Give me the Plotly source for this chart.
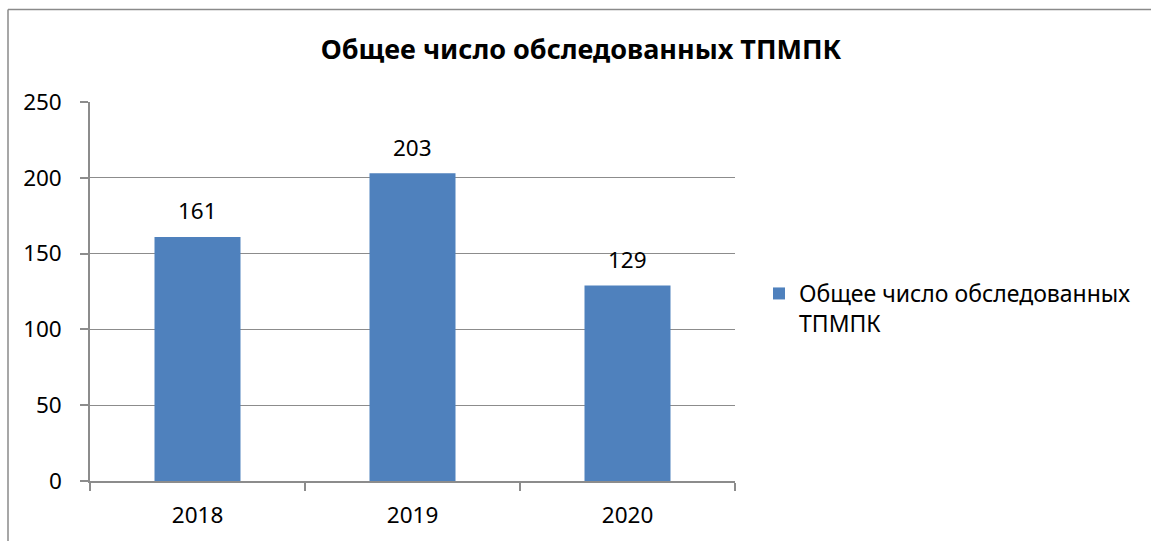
import plotly.graph_objects as go

years = ["2018", "2019", "2020"]
values = [161, 203, 129]
series_name = "Общее число обследованных<br>ТПМПК"
title_text = "Общее число обследованных ТПМПК"
y_ticks = [0, 50, 100, 150, 200, 250]

W, H = 1151, 541
L, R, T, B = 90, W - 735, 102, H - 481
FONT = "Noto Sans"
GRAY = "#8c8c8c"
FS = 22.5

fig = go.Figure()
fig.add_trace(go.Bar(x=years, y=values, name=series_name,
                     marker=dict(color="#4F81BD", line=dict(width=0))))

# category axes place annotations by category index
for i, v in enumerate(values):
    fig.add_annotation(x=i, y=v, text=str(v), showarrow=False, yshift=26,
                       font=dict(family=FONT, size=FS, color="#000"))

pw = W - L - R
ph = H - T - B
# chart frame (left and top edges visible)
fig.add_shape(type="line", xref="paper", yref="paper",
              x0=(8 - L) / pw, x1=(W + 5 - L) / pw,
              y0=(H - B - 9.5) / ph, y1=(H - B - 9.5) / ph,
              line=dict(color="#8a8a8a", width=1.5))
fig.add_shape(type="line", xref="paper", yref="paper",
              x0=(8 - L) / pw, x1=(8 - L) / pw,
              y0=(H - B - 9.5) / ph, y1=-(B + 5) / ph,
              line=dict(color="#8a8a8a", width=1.5))

fig.update_layout(
    width=W, height=H,
    margin=dict(l=L, r=R, t=T, b=B, autoexpand=False),
    paper_bgcolor="white", plot_bgcolor="white",
    bargap=0.6,
    showlegend=True,
    title=dict(text="<b>" + title_text + "</b>", x=581 / W, xanchor="center",
               y=1 - 50 / H, yanchor="middle",
               font=dict(family=FONT, size=27, color="#000")),
    legend=dict(x=(759 - L) / pw, y=(481 - 272) / ph, xanchor="left", yanchor="top",
                font=dict(family=FONT, size=23, color="#000"),
                bgcolor="rgba(0,0,0,0)", itemwidth=30, valign="top"),
    font=dict(family=FONT, size=FS, color="#000"),
)
fig.update_xaxes(type="category", categoryorder="array", categoryarray=years,
                 range=[-0.5, len(years) - 0.5],
                 showline=True, linecolor=GRAY, linewidth=1.5,
                 ticks="outside", tickson="boundaries", ticklen=8, tickcolor=GRAY,
                 tickwidth=1.5, showgrid=False, ticklabelstandoff=13,
                 tickfont=dict(family=FONT, size=FS, color="#000"))
fig.update_yaxes(range=[0, 250], tickvals=y_ticks, showline=True, linecolor=GRAY,
                 linewidth=1.5, ticks="outside", ticklen=8, tickcolor=GRAY, tickwidth=1.5,
                 showgrid=True, gridcolor=GRAY, gridwidth=1, zeroline=False,
                 ticklabelstandoff=14,
                 tickfont=dict(family=FONT, size=FS, color="#000"))

fig.write_html("out.html", post_script="document.body.style.margin='0';",
               config={"displayModeBar": False})
